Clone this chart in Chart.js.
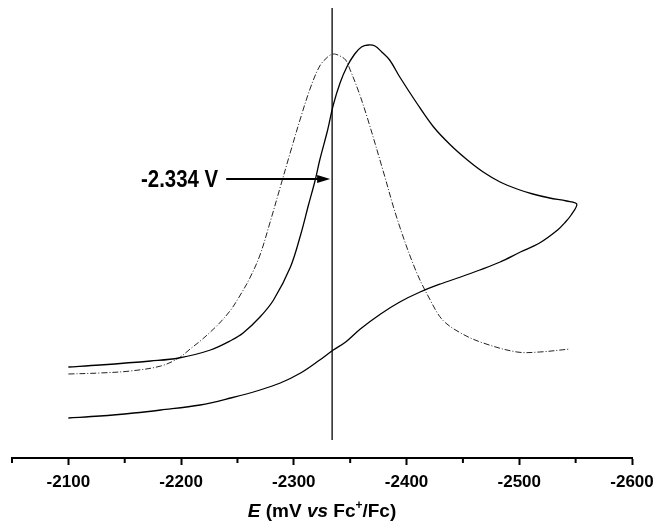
<!DOCTYPE html>
<html>
<head>
<meta charset="utf-8">
<script src="https://cdn.jsdelivr.net/npm/chart.js@4"></script>
<style>
  html, body { margin: 0; padding: 0; background: #fff; }
</style>
</head>
<body>
<canvas id="canvas" width="654" height="523"></canvas>
<script>
// potential (mV vs Fc+/Fc) and current (arbitrary units)
var cvForwardE = [-2100, -2128, -2173, -2198, -2226, -2245, -2255, -2270, -2282, -2297, -2306, -2313, -2319, -2323, -2330, -2335, -2341, -2347, -2354, -2360, -2366, -2372, -2378, -2385, -2394, -2409, -2424, -2439, -2454, -2468, -2483, -2498, -2512, -2527, -2542, -2551];
var cvForwardI = [9.1, 9.3, 9.7, 10.0, 10.8, 11.8, 12.5, 14.1, 15.8, 19.1, 22.3, 25.3, 27.8, 29.8, 32.8, 35.3, 37.5, 39.1, 40.4, 41.1, 41.3, 41.2, 40.6, 39.8, 38.1, 35.5, 33.1, 31.3, 29.8, 28.6, 27.6, 26.9, 26.4, 26.0, 25.7, 25.4];
var cvReverseE = [-2551, -2546, -2541, -2534, -2518, -2501, -2483, -2465, -2448, -2430, -2412, -2394, -2377, -2359, -2346, -2335, -2323, -2306, -2288, -2270, -2244, -2217, -2182, -2158, -2128, -2100];
var cvReverseI = [25.4, 24.3, 23.6, 22.8, 21.5, 20.6, 19.6, 18.8, 18.1, 17.4, 16.6, 15.6, 14.4, 12.9, 11.6, 10.8, 9.8, 8.5, 7.5, 6.8, 6.0, 5.3, 4.8, 4.5, 4.2, 4.0];
var dpvE = [-2100, -2128, -2155, -2182, -2198, -2208, -2217, -2226, -2235, -2244, -2252, -2261, -2270, -2279, -2288, -2297, -2306, -2315, -2323, -2330, -2335, -2341, -2346, -2350, -2357, -2365, -2379, -2392, -2408, -2421, -2432, -2448, -2468, -2498, -2518, -2545];
var dpvI = [8.4, 8.5, 8.7, 9.2, 10.0, 10.9, 11.7, 12.6, 13.6, 14.8, 16.2, 18.0, 20.3, 23.6, 27.1, 30.6, 34.0, 37.1, 39.2, 40.1, 40.4, 40.2, 39.8, 38.8, 36.8, 34.1, 28.8, 23.8, 18.8, 15.8, 13.8, 12.5, 11.5, 10.6, 10.6, 10.9];
var markE = -2334;
var markLabel = '-2.334 V';
var tickValues = [-2100, -2200, -2300, -2400, -2500, -2600];

function pts(xs, ys) {
	var out = [];
	for (var i = 0; i < xs.length; i++) out.push({x: xs[i], y: ys[i]});
	return out;
}

var cvPoints = pts(cvForwardE, cvForwardI).concat(pts(cvReverseE, cvReverseI).slice(1));

var extras = {
	id: 'extras',
	afterDraw: function(chart) {
		var ctx = chart.ctx;
		var xs = chart.scales.x, ys = chart.scales.y;
		var ca = chart.chartArea;
		ctx.save();
		// minor ticks
		ctx.strokeStyle = '#000';
		ctx.lineWidth = 2;
		for (var v = -2050; v >= -2550; v -= 100) {
			var px = xs.getPixelForValue(v);
			ctx.beginPath();
			ctx.moveTo(px, ca.bottom);
			ctx.lineTo(px, ca.bottom + 5);
			ctx.stroke();
		}
		// arrow
		var tipX = xs.getPixelForValue(markE) - 2;
		var ay = ys.getPixelForValue(27.9);
		var startX = xs.getPixelForValue(-2240);
		ctx.lineWidth = 2;
		ctx.beginPath();
		ctx.moveTo(startX, ay);
		ctx.lineTo(tipX - 10, ay);
		ctx.stroke();
		ctx.fillStyle = '#000';
		ctx.beginPath();
		ctx.moveTo(tipX, ay);
		ctx.lineTo(tipX - 13, ay - 4);
		ctx.lineTo(tipX - 13, ay + 4);
		ctx.closePath();
		ctx.fill();
		// label, slightly condensed
		ctx.save();
		ctx.translate(startX - 8, ay);
		ctx.scale(0.85, 1);
		ctx.font = 'bold 24px "Liberation Sans", Arial, sans-serif';
		ctx.textAlign = 'right';
		ctx.textBaseline = 'middle';
		ctx.fillText(markLabel, 0, 1);
		ctx.restore();
		// axis title: E (mV vs Fc+/Fc)
		var parts = [
			{t: 'E', f: 'italic bold 19px "Liberation Sans", Arial, sans-serif', dy: 0},
			{t: ' (mV ', f: 'bold 19px "Liberation Sans", Arial, sans-serif', dy: 0},
			{t: 'vs', f: 'italic bold 19px "Liberation Sans", Arial, sans-serif', dy: 0},
			{t: ' Fc', f: 'bold 19px "Liberation Sans", Arial, sans-serif', dy: 0},
			{t: '+', f: 'bold 12px "Liberation Sans", Arial, sans-serif', dy: -8},
			{t: '/Fc)', f: 'bold 19px "Liberation Sans", Arial, sans-serif', dy: 0}
		];
		var total = 0;
		parts.forEach(function(p) { ctx.font = p.f; p.w = ctx.measureText(p.t).width; total += p.w; });
		var x = (ca.left + ca.right) / 2 - total / 2;
		var by = 517;
		ctx.textAlign = 'left';
		ctx.textBaseline = 'alphabetic';
		parts.forEach(function(p) { ctx.font = p.f; ctx.fillText(p.t, x, by + p.dy); x += p.w; });
		ctx.restore();
	}
};

window.onload = function() {
	var ctx = document.getElementById('canvas').getContext('2d');
	window.myChart = new Chart(ctx, {
		type: 'scatter',
		data: {
			datasets: [{
				label: 'CV',
				data: cvPoints,
				showLine: true,
				borderColor: '#000',
				borderWidth: 1.3,
				pointRadius: 0,
				tension: 0.35,
				fill: false
			}, {
				label: 'DPV',
				data: pts(dpvE, dpvI),
				showLine: true,
				borderColor: '#222',
				borderWidth: 1,
				borderDash: [6, 2, 1, 2],
				pointRadius: 0,
				tension: 0.35,
				fill: false
			}, {
				label: 'E1/2',
				data: [{x: markE, y: 1.8}, {x: markE, y: 45}],
				showLine: true,
				borderColor: '#333',
				borderWidth: 1.6,
				pointRadius: 0,
				fill: false
			}]
		},
		options: {
			responsive: false,
			animation: false,
			layout: {
				padding: {left: 12, right: 22, top: 8, bottom: 25}
			},
			plugins: {
				legend: {display: false},
				tooltip: {enabled: false},
				title: {display: false}
			},
			scales: {
				x: {
					type: 'linear',
					reverse: true,
					min: -2600,
					max: -2050,
					border: {display: true, color: '#000', width: 2},
					grid: {drawOnChartArea: false, tickLength: 7, tickWidth: 2, tickColor: function(c) { return (c.tick && c.tick.value % 100 === 0) ? '#000' : 'rgba(0,0,0,0)'; }},
					afterBuildTicks: function(scale) {
						var t = [];
						for (var v = -2050; v >= -2600; v -= 50) t.push({value: v});
						scale.ticks = t;
					},
					afterFit: function(scale) {
						scale.height = 40;
						scale.paddingLeft = 0;
						scale.paddingRight = 0;
					},
					ticks: {
						autoSkip: false,
						maxRotation: 0,
						padding: 7,
						color: '#000',
						font: {family: '"Liberation Sans", Arial, sans-serif', size: 17, weight: 'bold'},
						callback: function(v) { return tickValues.indexOf(v) >= 0 ? String(v) : ''; }
					}
				},
				y: {
					display: false,
					min: 0,
					max: 45
				}
			}
		},
		plugins: [extras]
	});
};
</script>
</body>
</html>
